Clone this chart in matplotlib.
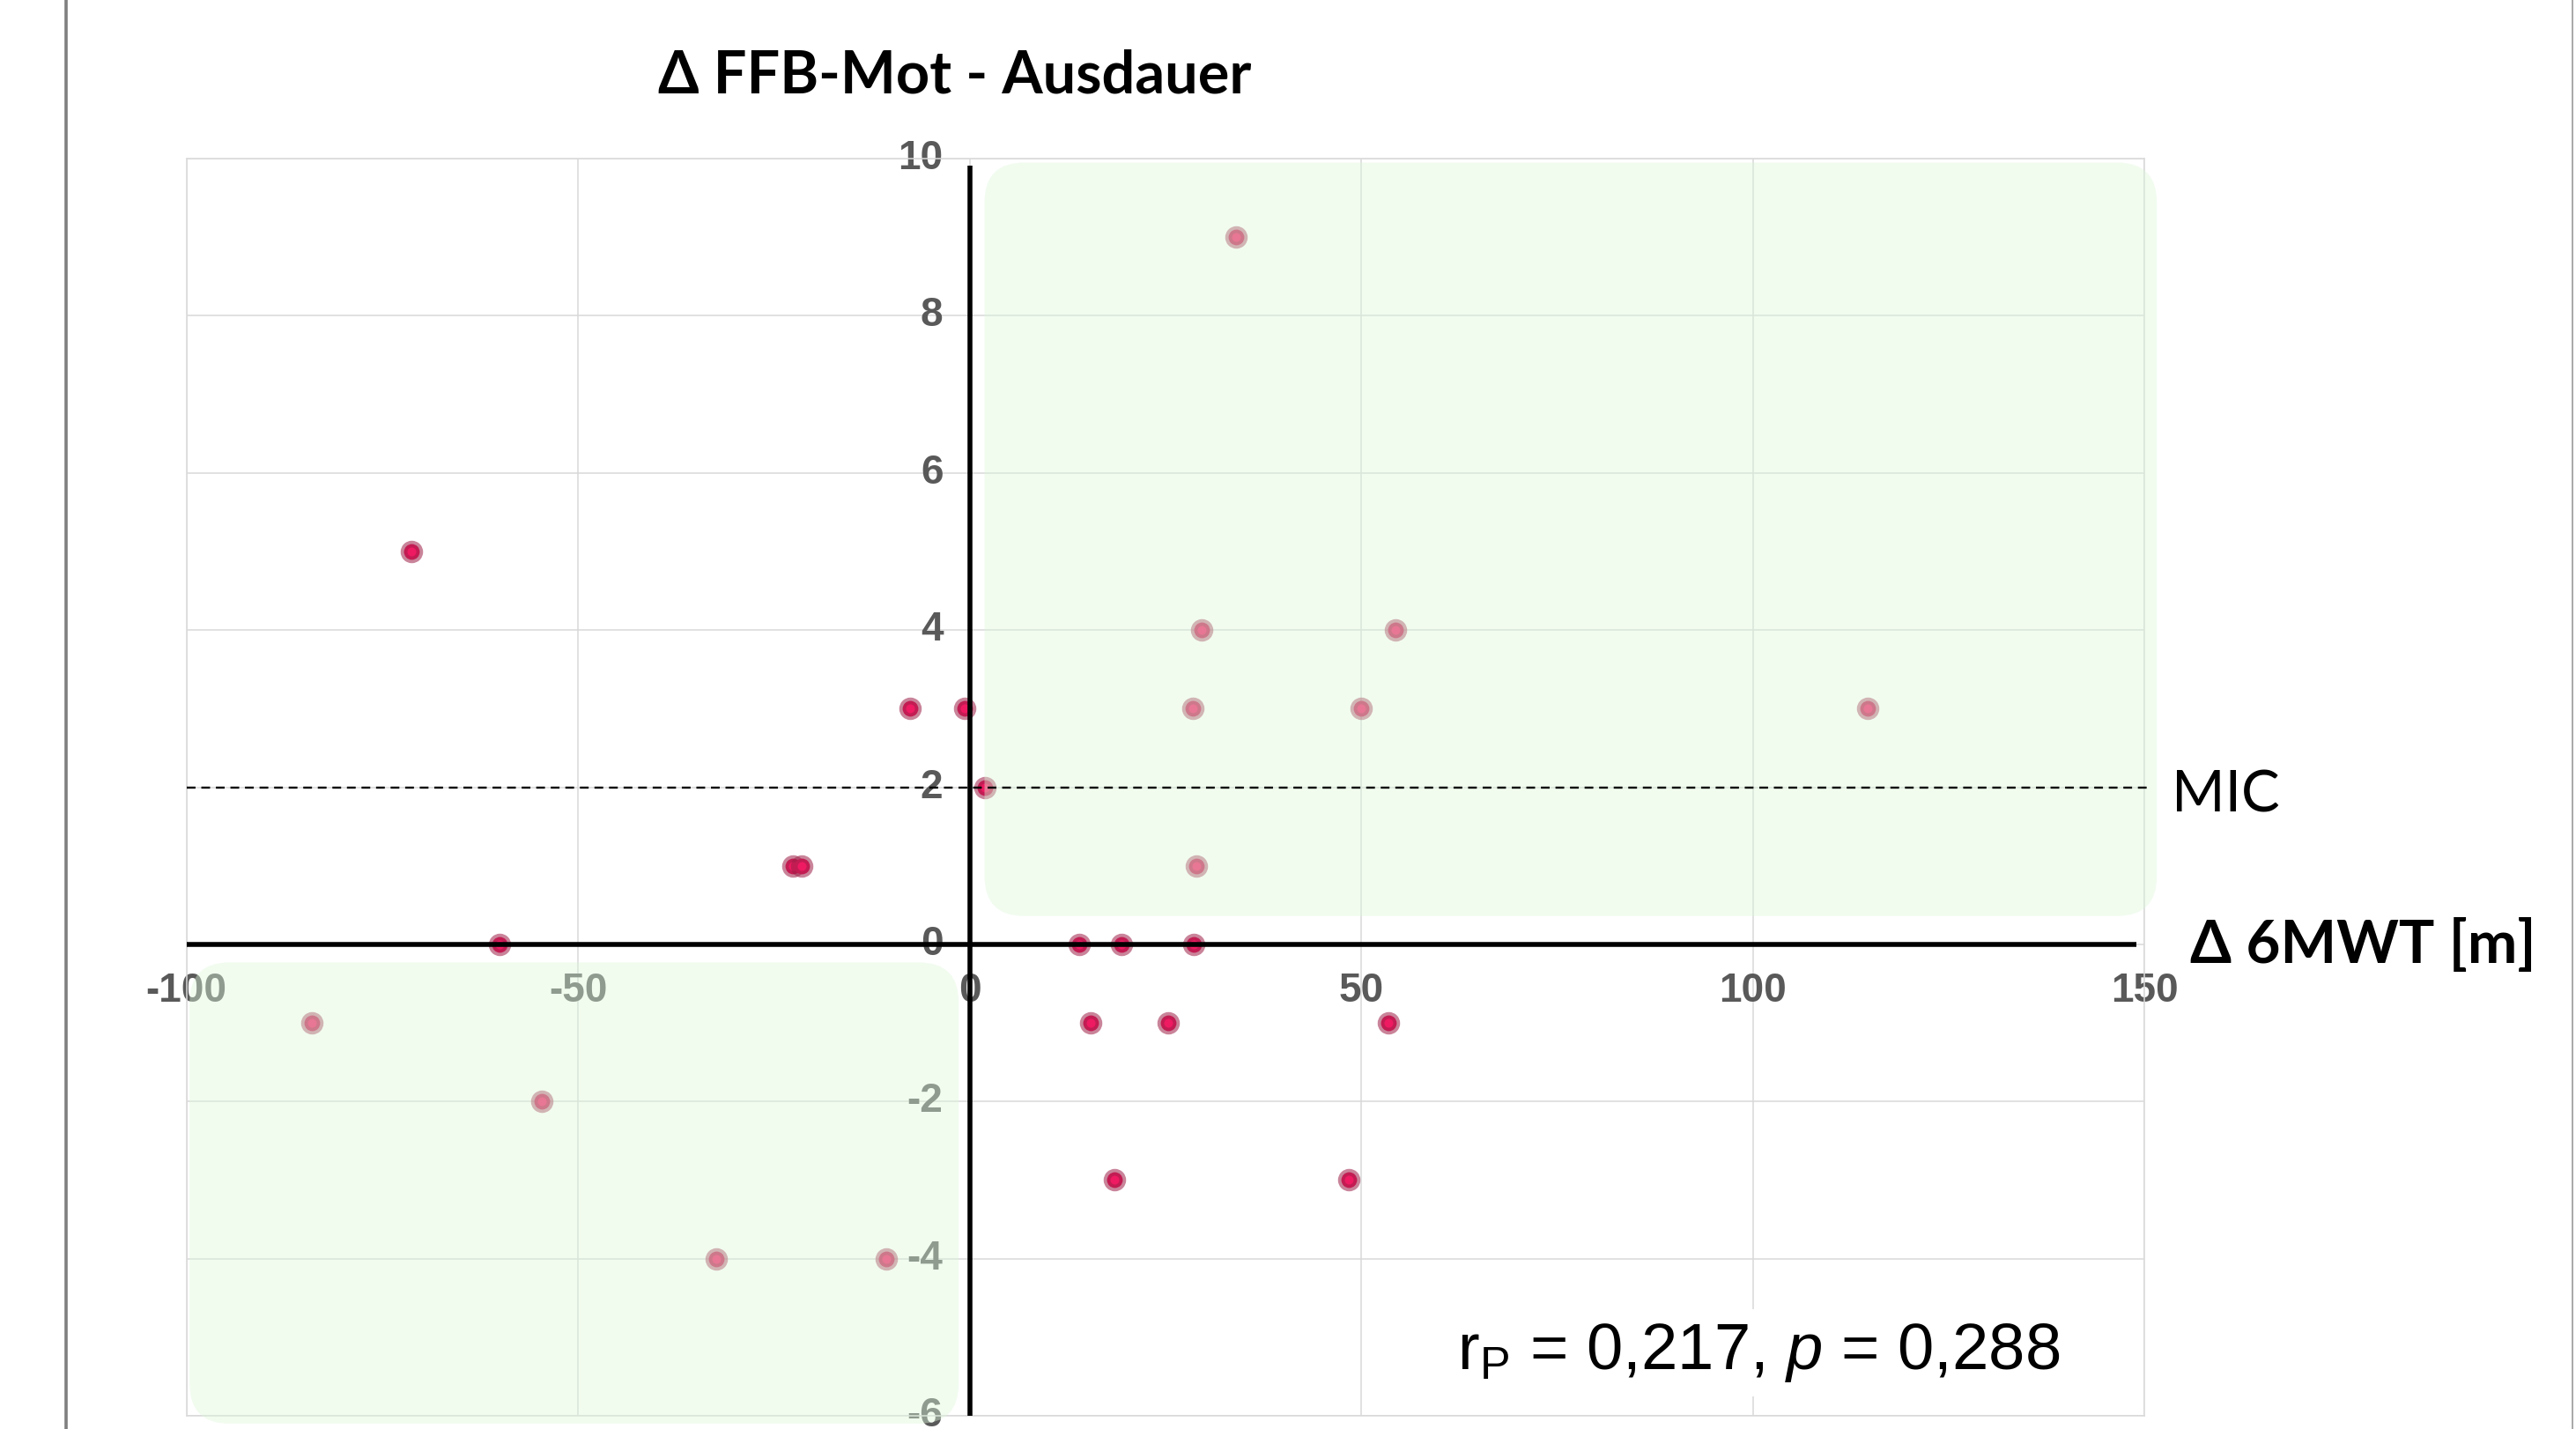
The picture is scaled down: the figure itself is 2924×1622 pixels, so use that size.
import matplotlib
matplotlib.use("Agg")
import matplotlib.pyplot as plt
from matplotlib.patches import FancyBboxPatch
from matplotlib.lines import Line2D

# ---------------- data ----------------
delta_6mwt = [34, -71.3, 29.6, 54.4, -7.6, -0.6, 28.5, 50, 114.7, 2,
              -22.6, -21.5, 28.9, -60, 14, 19.4, 28.6, -84, 15.5, 25.4,
              53.5, -54.6, 18.5, 48.4, -32.4, -10.6]
delta_ffb = [9, 5, 4, 4, 3, 3, 3, 3, 3, 2,
             1, 1, 1, 0, 0, 0, 0, -1, -1, -1,
             -1, -2, -3, -3, -4, -4]
x_ticks = [-100, -50, 0, 50, 100, 150]
y_ticks = [-6, -4, -2, 0, 2, 4, 6, 8, 10]
mic_value = 2
title = "Δ FFB-Mot - Ausdauer"
x_label = "Δ 6MWT [m]"
mic_label = "MIC"

plt.rcParams['mathtext.fontset'] = 'custom'
plt.rcParams['mathtext.rm'] = 'Liberation Sans'
plt.rcParams['mathtext.it'] = 'Liberation Sans:italic'

W, H = 2924, 1622
fig = plt.figure(figsize=(W / 100, H / 100), dpi=100)
ax = fig.add_axes([211.7 / W, 1 - 1607 / H, (2434 - 211.7) / W, (1607 - 180) / H])
ax.set_xlim(-100, 150)
ax.set_ylim(-6, 10)
ax.set_xticks(x_ticks)
ax.set_yticks(y_ticks)
ax.tick_params(length=0, labelbottom=False, labelleft=False)
ax.grid(True, color="#D9D9D9", lw=1.1, zorder=0)
ax.set_axisbelow(True)
for s in ax.spines.values():
    s.set_color("#D9D9D9")
    s.set_linewidth(1.1)

tick_font = dict(family=["Liberation Sans", "DejaVu Sans"], weight="bold",
                 size=33, color="#595959")
for yt in y_ticks:
    ax.text(-3.4, yt, f"{yt}", ha="right", va="center", zorder=1,
            clip_on=False, **tick_font)
for xt in x_ticks:
    ax.text(xt, -0.6, f"{xt}", ha="center", va="center", zorder=1,
            clip_on=False, **tick_font)

# points
ax.scatter(delta_6mwt, delta_ffb, s=165, c="#EE1A62",
           edgecolors=(0.62, 0.12, 0.28, 0.55), linewidths=5.5, zorder=3,
           clip_on=False)

# green quadrant highlights (overlay)
px_x = 8.89   # px per x unit
px_y = 88.8   # px per y unit
r_px = 45
green = (222 / 255, 248 / 255, 218 / 255, 0.42)
for (x0, x1, y0, y1) in [(1.9, 151.6, 0.36, 9.95), (-99.6, -1.4, -6.1, -0.23)]:
    p = FancyBboxPatch((x0, y0), x1 - x0, y1 - y0,
                       boxstyle=f"round,pad=0,rounding_size={r_px / px_x}",
                       mutation_aspect=px_x / px_y,
                       fc=green, ec="none", zorder=4, clip_on=False)
    ax.add_patch(p)

# axes cross
ax.hlines(0, -100, 149, color="black", lw=4, zorder=5, clip_on=False)
ax.vlines(0, -6, 9.91, color="black", lw=4, zorder=5, clip_on=False)

# MIC line
ax.hlines(mic_value, -100, 151, color="black", lw=1.7, linestyles=(0, (4.2, 2.8)),
          zorder=5, clip_on=False)
ax.text(153.5, mic_value - 0.315, mic_label, ha="left", va="baseline",
        family=["Lato", "DejaVu Sans"], size=47, color="black", clip_on=False)
ax.text(155.8, -0.24, x_label, ha="left", va="baseline",
        family=["Lato", "DejaVu Sans"], weight="bold", size=48.5, color="black",
        clip_on=False)

# stats text
ax.text(62.2, -5.41, r"r$_\mathrm{P}$ = 0,217, $p$ = 0,288", ha="left",
        va="baseline", family="Liberation Sans", size=53.5, color="black",
        zorder=6, bbox=dict(fc="white", ec="none", pad=10))

# title
fig.text(1083.5 / W, 1 - 105 / H, title, ha="center", va="baseline",
         family=["Lato", "DejaVu Sans"], weight="bold", size=48, color="black")

# page frame lines
fig.add_artist(Line2D([75 / W, 75 / W], [0, 1], color="#7F7F7F", lw=2.6))
fig.add_artist(Line2D([2920 / W, 2920 / W], [0, 1], color="#9A9A9A", lw=1.2))

fig.savefig("out.png", dpi=100, facecolor="white")
